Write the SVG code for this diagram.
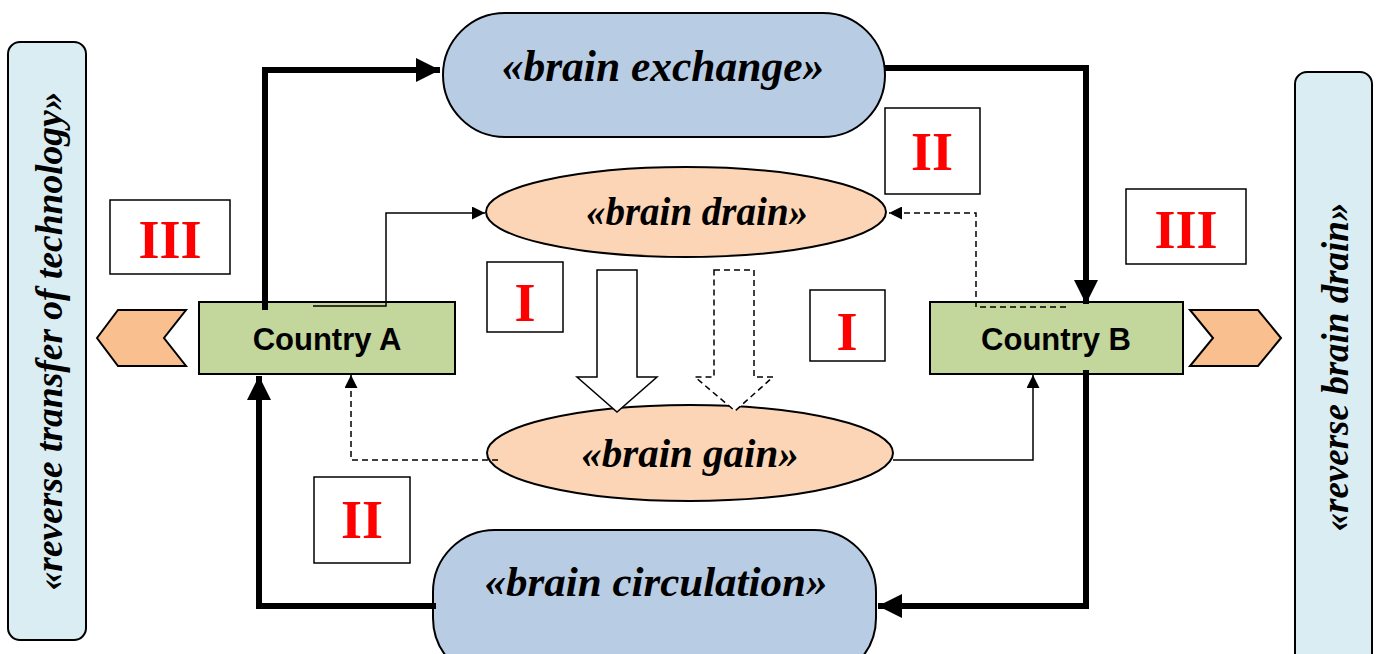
<svg xmlns="http://www.w3.org/2000/svg" width="1380" height="654" viewBox="0 0 1380 654">
<style>
.side{fill:#daedf3;stroke:#000;stroke-width:2}
.blue{fill:#b8cce4;stroke:#000;stroke-width:2}
.peach{fill:#fbd5b5;stroke:#000;stroke-width:2}
.green{fill:#c3d69b;stroke:#000;stroke-width:2}
.chev{fill:#f9bf8f;stroke:#000;stroke-width:2}
.lbl{fill:#fff;stroke:#000;stroke-width:1.5}
.it{font-family:"Liberation Serif",serif;font-weight:bold;font-style:italic;fill:#000;text-anchor:middle}
.rn{font-family:"Liberation Serif",serif;font-weight:bold;fill:#ff0000;font-size:54px;text-anchor:middle}
.cn{font-family:"Liberation Sans",Arial,sans-serif;font-weight:bold;font-size:31px;fill:#000;text-anchor:middle}
.thick{fill:none;stroke:#000;stroke-width:6}
.thin{fill:none;stroke:#000;stroke-width:1.5}
.dash{fill:none;stroke:#000;stroke-width:1.5;stroke-dasharray:6 4}
</style>
<defs>
<marker id="big" markerUnits="userSpaceOnUse" viewBox="0 0 20 20" refX="20" refY="10" markerWidth="24" markerHeight="24" orient="auto"><path d="M0,0 L20,10 L0,20 Z" fill="#000"/></marker>
<marker id="small" markerUnits="userSpaceOnUse" viewBox="0 0 12 12" refX="12" refY="6" markerWidth="13" markerHeight="13" orient="auto"><path d="M0,0 L12,6 L0,12 Z" fill="#000"/></marker>
</defs>
<rect width="1380" height="654" fill="#fff"/>

<g id="side-left">
<rect class="side" x="8" y="42" width="78" height="598" rx="12"/>
<text class="it" font-size="37.5" transform="translate(62,341) rotate(-90)">«reverse transfer of technology»</text>
</g>
<g id="side-right">
<rect class="side" x="1295" y="72" width="77" height="600" rx="12"/>
<text class="it" font-size="37" transform="translate(1348,367) rotate(-90)">«reverse brain drain»</text>
</g>

<g id="brain-exchange">
<rect class="blue" x="443" y="13" width="442" height="124" rx="62"/>
<text class="it" font-size="43.5" x="663" y="81">«brain exchange»</text>
</g>
<g id="brain-drain">
<ellipse class="peach" cx="686" cy="212" rx="200" ry="45"/>
<text class="it" font-size="39" x="697" y="225">«brain drain»</text>
</g>
<g id="brain-gain">
<ellipse class="peach" cx="690" cy="453" rx="203" ry="48"/>
<text class="it" font-size="41" x="690" y="467">«brain gain»</text>
</g>
<g id="brain-circulation">
<rect class="blue" x="433" y="530" width="443" height="150" rx="62"/>
<text class="it" font-size="43" x="656" y="596">«brain circulation»</text>
</g>

<g id="country-a">
<rect class="green" x="199" y="302" width="256" height="72"/>
<text class="cn" x="327" y="350">Country A</text>
</g>
<g id="country-b">
<rect class="green" x="930" y="302" width="253" height="72"/>
<text class="cn" x="1056" y="350">Country B</text>
</g>

<g id="chevron-left"><polygon class="chev" points="97,338 118,310 186,310 164,338 186,366 118,366"/></g>
<g id="chevron-right"><polygon class="chev" points="1190,310 1258,310 1281,338 1258,366 1190,366 1213,338"/></g>

<g id="label-III-left"><rect class="lbl" x="110" y="200" width="120" height="74"/><text class="rn" x="170" y="258">III</text></g>
<g id="label-II-top"><rect class="lbl" x="885" y="108" width="95" height="86"/><text class="rn" x="932" y="170">II</text></g>
<g id="label-III-right"><rect class="lbl" x="1126" y="189" width="120" height="75"/><text class="rn" x="1186" y="248">III</text></g>
<g id="label-I-left"><rect class="lbl" x="487" y="262" width="76" height="70"/><text class="rn" x="525" y="321">I</text></g>
<g id="label-I-right"><rect class="lbl" x="810" y="290" width="75" height="71"/><text class="rn" x="847" y="350">I</text></g>
<g id="label-II-bottom"><rect class="lbl" x="314" y="477" width="96" height="86"/><text class="rn" x="362" y="538">II</text></g>

<g id="connectors">
<polyline class="thick" points="265,310 265,70 440,70" marker-end="url(#big)"/>
<polyline class="thick" points="884,68 1086,68 1086,304" marker-end="url(#big)"/>
<polyline class="thick" points="1086,370 1086,606 878,606" marker-end="url(#big)"/>
<polyline class="thick" points="436,606 259,606 259,376" marker-end="url(#big)"/>
<polyline class="thin" points="313,306 386,306 386,213 485,213" marker-end="url(#small)"/>
<polyline class="dash" points="1066,307 976,307 976,213 889,213" marker-end="url(#small)"/>
<polyline class="dash" points="498,460 351,460 351,375" marker-end="url(#small)"/>
<polyline class="thin" points="893,460 1033,460 1033,375" marker-end="url(#small)"/>
<path d="M597,270 L637,270 L637,377 L657,377 L617,412 L577,377 L597,377 Z" fill="#fff" stroke="#000" stroke-width="1.5"/>
<path d="M714,270 L754,270 L754,377 L773,377 L735,411 L695,377 L714,377 Z" fill="#fff" stroke="#000" stroke-width="1.5" stroke-dasharray="6 4"/>
</g>
</svg>
